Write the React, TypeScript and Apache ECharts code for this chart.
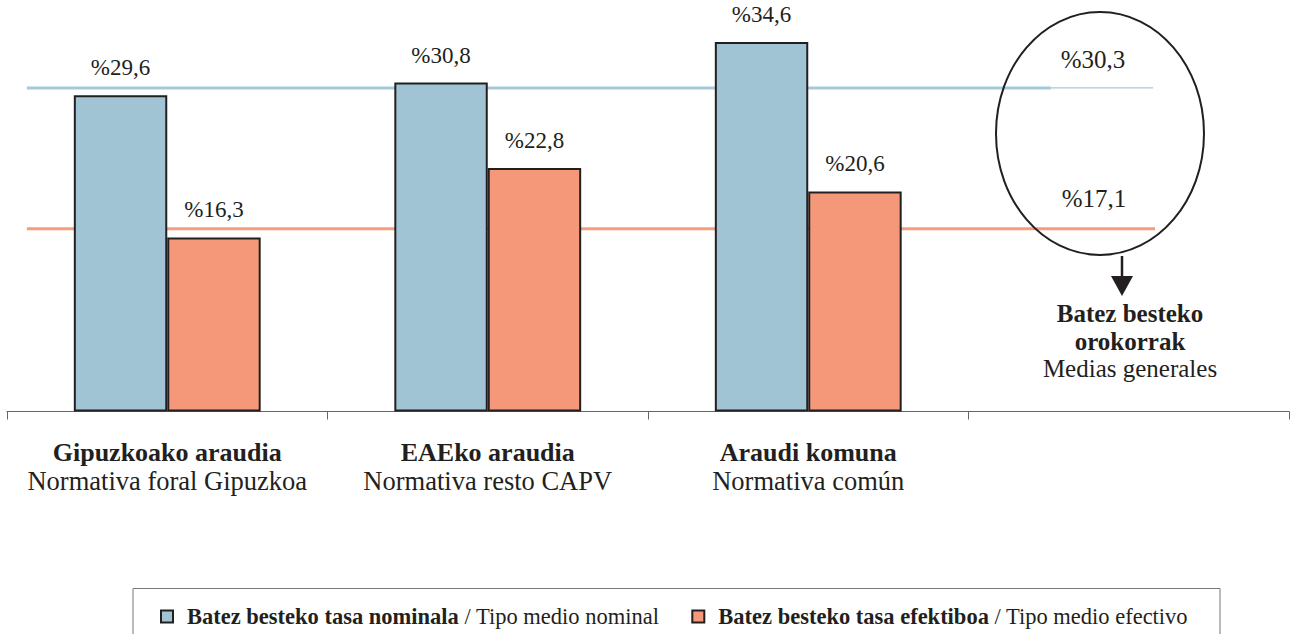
import React, { useEffect, useRef } from "react";
import * as echarts from "echarts";

// ---- data ----
const categoriesEu = ["Gipuzkoako araudia", "EAEko araudia", "Araudi komuna", ""];
const categoriesEs = ["Normativa foral Gipuzkoa", "Normativa resto CAPV", "Normativa común", ""];
const nominalRates = [29.6, 30.8, 34.6, null];
const effectiveRates = [16.3, 22.8, 20.6, null];
const averageNominal = 30.3;
const averageEffective = 17.1;
const seriesNamesEu = ["Batez besteko tasa nominala", "Batez besteko tasa efektiboa"];
const seriesNamesEs = ["Tipo medio nominal", "Tipo medio efectivo"];
const averagesTitleEu = ["Batez besteko", "orokorrak"];
const averagesTitleEs = "Medias generales";

// ---- style / layout ----
const FONT = "Liberation Serif";
const INK = "#231f20";
const BLUE = "#a0c4d4";
const ORANGE = "#f5987a";
const BLUE_LINE = "#a6c9d9";
const ORANGE_LINE = "#f89b7d";
// average-line extents in category units along a hidden value axis (0..4)
const LINE_START = 0.062;
const BLUE_THICK_END = 3.257;
const BLUE_THIN_END = 3.576;
const ORANGE_END = 3.582;

const fmt = (v: number) => "%" + v.toFixed(1).replace(".", ",");

export default function App() {
  const ref = useRef<HTMLDivElement>(null);

  useEffect(() => {
    if (!ref.current) return;
    const chart = echarts.init(ref.current, undefined, { renderer: "svg" });

    const barLabel = {
      show: true,
      position: "top",
      distance: 16,
      fontFamily: FONT,
      fontSize: 23,
      color: INK,
      formatter: (p: any) => fmt(p.value),
    };

    const option: any = {
      animation: false,
      backgroundColor: "#fff",
      textStyle: { fontFamily: FONT, color: INK },
      grid: { left: 7, right: 1, top: 5.66, bottom: 222.5, containLabel: false },
      xAxis: [
        {
          type: "category",
          data: categoriesEu,
          boundaryGap: true,
          axisLine: { lineStyle: { color: "#666", width: 1 } },
          axisTick: { show: true, length: 8, interval: 0, lineStyle: { color: "#666", width: 1 } },
          axisLabel: {
            interval: 0,
            margin: 27,
            fontFamily: FONT,
            formatter: (_v: string, i: number) =>
              categoriesEu[i] ? `{b|${categoriesEu[i]}}\n{r|${categoriesEs[i]}}` : "",
            rich: {
              b: { fontFamily: FONT, fontWeight: "bold", fontSize: 26, lineHeight: 28, color: INK },
              r: { fontFamily: FONT, fontSize: 26.5, lineHeight: 28, color: INK },
            },
          },
          splitLine: { show: false },
        },
        { type: "value", min: 0, max: 4, show: false, gridIndex: 0 },
      ],
      yAxis: { type: "value", min: 0, max: 38, show: false },
      legend: {
        data: seriesNamesEu,
        left: 155,
        top: 600,
        itemWidth: 12,
        itemHeight: 12,
        itemGap: 32,
        icon: "rect",
        selectedMode: false,
        formatter: (name: string) => {
          const i = seriesNamesEu.indexOf(name);
          return `{b|${name}}{r| / ${seriesNamesEs[i]}}`;
        },
        textStyle: {
          fontFamily: FONT,
          fontSize: 22.5,
          color: INK,
          rich: {
            b: { fontFamily: FONT, fontWeight: "bold", fontSize: 22.5, color: INK, padding: [0, 0, 0, 9] },
            r: { fontFamily: FONT, fontSize: 22.5, color: INK },
          },
        },
      },
      series: [
        {
          type: "line",
          xAxisIndex: 1,
          yAxisIndex: 0,
          data: [[LINE_START, averageNominal], [BLUE_THICK_END, averageNominal]],
          symbol: "none",
          silent: true,
          z: 1,
          lineStyle: { color: BLUE_LINE, width: 3 },
        },
        {
          type: "line",
          xAxisIndex: 1,
          yAxisIndex: 0,
          data: [[BLUE_THICK_END, averageNominal], [BLUE_THIN_END, averageNominal]],
          symbol: "none",
          silent: true,
          z: 1,
          lineStyle: { color: BLUE_LINE, width: 1.2 },
        },
        {
          type: "line",
          xAxisIndex: 1,
          yAxisIndex: 0,
          data: [[LINE_START, averageEffective], [ORANGE_END, averageEffective]],
          symbol: "none",
          silent: true,
          z: 1,
          lineStyle: { color: ORANGE_LINE, width: 3 },
        },
        {
          name: seriesNamesEu[0],
          type: "bar",
          data: nominalRates,
          barGap: "0%",
          barCategoryGap: "41.7%",
          z: 3,
          itemStyle: { color: BLUE, borderColor: INK, borderWidth: 2 },
          label: barLabel,
        },
        {
          name: seriesNamesEu[1],
          type: "bar",
          data: effectiveRates,
          barGap: "0%",
          barCategoryGap: "41.7%",
          z: 3,
          itemStyle: { color: ORANGE, borderColor: INK, borderWidth: 2 },
          label: barLabel,
        },
      ],
    };

    chart.setOption(option);

    const yNom = chart.convertToPixel({ yAxisIndex: 0 }, averageNominal) as number;
    const yEff = chart.convertToPixel({ yAxisIndex: 0 }, averageEffective) as number;

    const txt = (text: string, x: number, y: number, size: number, bold: boolean) => ({
      type: "text",
      x,
      y,
      z: 10,
      style: {
        text,
        fill: INK,
        fontFamily: FONT,
        fontSize: size,
        fontWeight: bold ? "bold" : "normal",
        textAlign: "center",
        textVerticalAlign: "middle",
        align: "center",
        verticalAlign: "middle",
      },
    });

    chart.setOption({
      graphic: [
        {
          type: "ellipse",
          shape: { cx: 1100, cy: 133.5, rx: 104, ry: 121.5 },
          style: { fill: "none", stroke: INK, lineWidth: 2 },
          z: 10,
        },
        txt(fmt(averageNominal), 1093, yNom - 28, 25, false),
        txt(fmt(averageEffective), 1094, yEff - 30, 25, false),
        {
          type: "line",
          shape: { x1: 1122, y1: 256, x2: 1122, y2: 280 },
          style: { stroke: INK, lineWidth: 2.5 },
          z: 10,
        },
        {
          type: "polygon",
          shape: { points: [[1111, 276], [1133, 276], [1122, 296]] },
          style: { fill: INK },
          z: 10,
        },
        txt(averagesTitleEu[0], 1130, 313, 25, true),
        txt(averagesTitleEu[1], 1130, 341, 25, true),
        txt(averagesTitleEs, 1130, 368, 25, false),
        {
          type: "rect",
          shape: { x: 133, y: 588.5, width: 1087, height: 80 },
          style: { fill: "none", stroke: "#777", lineWidth: 1 },
          z: 0,
        },
      ],
    });

    return () => chart.dispose();
  }, []);

  return (
    <div
      ref={ref}
      style={{ position: "fixed", left: 0, top: 0, width: 1290, height: 634, background: "#fff" }}
    />
  );
}
